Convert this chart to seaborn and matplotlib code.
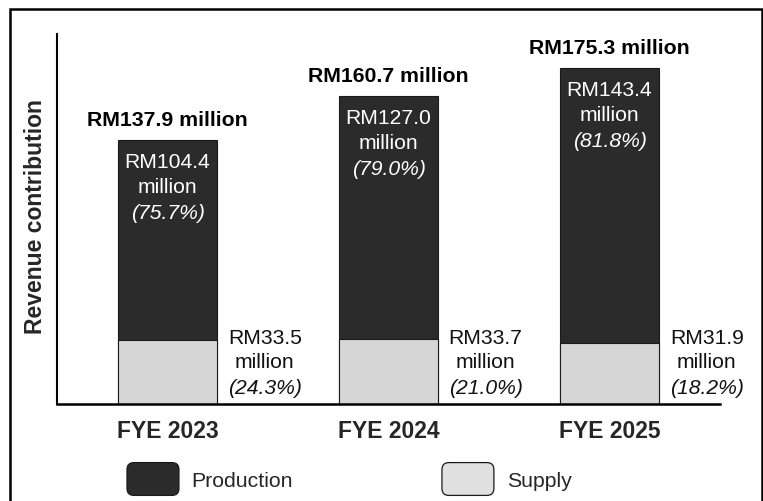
import matplotlib
matplotlib.use("Agg")
import matplotlib.pyplot as plt
import seaborn as sns
import pandas as pd
from matplotlib.patches import FancyBboxPatch, Rectangle, Patch
from matplotlib.legend_handler import HandlerPatch

# ---- data ----
categories = ["FYE 2023", "FYE 2024", "FYE 2025"]
production = [104.4, 127.0, 143.4]
supply = [33.5, 33.7, 31.9]
totals = [137.9, 160.7, 175.3]
production_pct = [75.7, 79.0, 81.8]
supply_pct = [24.3, 21.0, 18.2]
series_names = ["Production", "Supply"]

sns.set_style("white")
plt.rcParams["font.family"] = ["Liberation Sans", "DejaVu Sans"]

PROD_C = "#2b2b2b"
SUP_C = "#d6d6d6"
SUP_LEG_C = "#e0e0e0"
EDGE_C = "#1a1a1a"

fig = plt.figure(figsize=(7.63, 5.02), dpi=100)
ax = fig.add_axes([57 / 763, 97 / 502, 663 / 763, 370 / 502])

df = pd.DataFrame({"year": categories, "total": totals, "supply": supply})
sns.barplot(data=df, x="year", y="total", color=PROD_C, saturation=1,
            width=0.445, edgecolor=EDGE_C, linewidth=0.8, ax=ax)
sns.barplot(data=df, x="year", y="supply", color=SUP_C, saturation=1,
            width=0.445, edgecolor=EDGE_C, linewidth=0.8, ax=ax)

ax.set_xlim(-0.5, 2.5)
ax.set_ylim(0, 193)
ax.set_yticks([])
ax.set_ylabel("")
ax.set_xlabel("")
for s in ["top", "right"]:
    ax.spines[s].set_visible(False)
ax.spines["left"].set_linewidth(1.5)
ax.spines["bottom"].set_linewidth(1.8)
ax.spines["left"].set_color("black")
ax.spines["bottom"].set_color("black")

ax.set_xticks([-0.5, 0.5, 1.5, 2.5], labels=[""] * 4)
ax.tick_params(axis="x", which="major", direction="out", length=5, width=1.5, color="black")
ax.set_xticks([0, 1, 2], labels=categories, minor=True)
ax.tick_params(axis="x", which="minor", length=0, pad=11, labelsize=16.5)
for lbl in ax.get_xticklabels(minor=True):
    lbl.set_fontweight("bold")

# y label
ax.text(-0.0317, 0.508, "Revenue contribution", transform=ax.transAxes, rotation=90,
        ha="center", va="center", fontsize=16.5, fontweight="bold")

px = 72 / 100  # points per pixel
FS = 15.2
for i in range(3):
    # totals
    ax.annotate(f"RM{totals[i]:.1f} million", (i, totals[i]), xytext=(0, 20 * px),
                textcoords="offset points", ha="center", va="center",
                fontsize=15.3, fontweight="bold", color="black")
    # production inside
    ax.annotate(f"RM{production[i]:.1f}", (i, totals[i]), xytext=(0, -22 * px),
                textcoords="offset points", ha="center", va="center",
                fontsize=FS, color="white")
    ax.annotate("million", (i, totals[i]), xytext=(0, -47 * px),
                textcoords="offset points", ha="center", va="center",
                fontsize=FS, color="white")
    ax.annotate(f"({production_pct[i]:.1f}%)", (i, totals[i]), xytext=(0, -73 * px),
                textcoords="offset points", ha="center", va="center",
                fontsize=FS, color="white", style="italic")
    # supply beside
    xs = i + 0.44
    ax.annotate(f"RM{supply[i]:.1f}", (xs, 0), xytext=(0, 67 * px),
                textcoords="offset points", ha="center", va="center",
                fontsize=FS, color="#111111")
    ax.annotate("million", (xs, 0), xytext=(0, 42 * px),
                textcoords="offset points", ha="center", va="center",
                fontsize=FS, color="#111111")
    ax.annotate(f"({supply_pct[i]:.1f}%)", (xs, 0), xytext=(0, 16 * px),
                textcoords="offset points", ha="center", va="center",
                fontsize=FS, color="#111111", style="italic")


class RoundHandler(HandlerPatch):
    def create_artists(self, legend, orig_handle, xdescent, ydescent, width, height,
                       fontsize, trans):
        p = FancyBboxPatch((-xdescent, -ydescent), width, height,
                           boxstyle="round,pad=0,rounding_size=5",
                           facecolor=orig_handle.get_facecolor(),
                           edgecolor=EDGE_C, linewidth=0.9, transform=trans)
        return [p]


LFS = 15.3
handles = [Patch(facecolor=PROD_C), Patch(facecolor=SUP_LEG_C)]
fig.legend(handles, series_names, loc="center left",
           bbox_to_anchor=(127 / 763, (502 - 480) / 502), ncol=2, frameon=False,
           fontsize=LFS, handlelength=37.4 / LFS, handleheight=2.0,
           handletextpad=0.6, columnspacing=7.0, borderpad=0, borderaxespad=0,
           handler_map={Patch: RoundHandler()})

# outer border
fig.add_artist(Rectangle((10 / 763, -0.1), 752 / 763, (492 / 502) + 0.1,
                         transform=fig.transFigure, fill=False, edgecolor="black",
                         linewidth=1.8))

fig.savefig("out.png", dpi=100)
